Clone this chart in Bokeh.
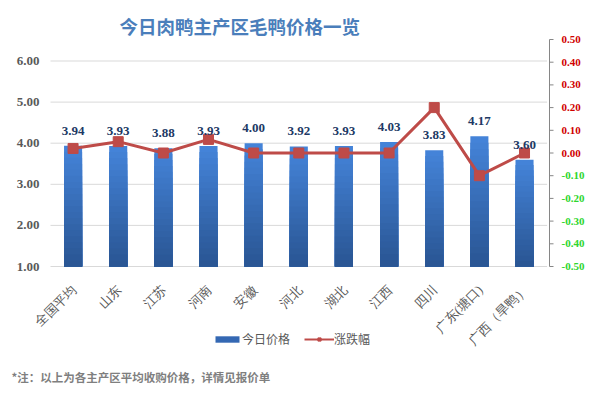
from bokeh.plotting import figure
from bokeh.models import Range1d, Label, Legend, LegendItem, ColumnDataSource
from bokeh.embed import file_html
from bokeh.resources import INLINE
import math

categories = ["全国平均", "山东", "江苏", "河南", "安徽", "河北", "湖北", "江西", "四川", "广东(塘口)", "广西（旱鸭）"]
prices = [3.94, 3.93, 3.88, 3.93, 4.00, 3.92, 3.93, 4.03, 3.83, 4.17, 3.60]
changes = [0.02, 0.05, 0.00, 0.06, 0.00, 0.00, 0.00, 0.00, 0.20, -0.10, 0.00]
left_ticks = [1, 2, 3, 4, 5, 6]
right_ticks = [-0.5, -0.4, -0.3, -0.2, -0.1, 0.0, 0.1, 0.2, 0.3, 0.4, 0.5]
series_names = ["今日价格", "涨跌幅"]
title_text = "今日肉鸭主产区毛鸭价格一览"
note_text = "*注：以上为各主产区平均收购价格，详情见报价单"

CJK = "Noto Sans CJK SC"
NUM = "Open Sans"
W, H = 590, 388

# layout constants (canvas pixels, measured from top-left)
FL, FR = 50.0, 546.6        # chart area left/right
FB = 266.0                  # baseline (1.00 / -0.50)
Y6 = 60.5                   # 6.00 gridline
RT = 39.0                   # +0.50 on right axis
n = len(categories)
ppx = (FR - FL) / n                    # pixels per category
ppu = (FB - Y6) / (6 - 1)              # pixels per price unit
ppc = (FB - RT) / 1.0                  # pixels per change unit

x0 = -0.5 - FL / ppx
x1 = x0 + W / ppx
y0 = 1 - (H - FB) / ppu
y1 = y0 + H / ppu
c0 = -0.5 - (H - FB) / ppc
c1 = c0 + H / ppc

def px_x(px):
    return x0 + px / ppx

p = figure(width=W, height=H, output_backend="svg", toolbar_location=None,
           x_range=Range1d(x0, x1), y_range=Range1d(y0, y1),
           x_axis_type=None, y_axis_type=None, min_border=0)
p.min_border_left = p.min_border_right = p.min_border_top = p.min_border_bottom = 0
p.outline_line_color = None
p.grid.visible = False
p.background_fill_color = "white"
p.border_fill_color = "white"
p.extra_y_ranges = {"chg": Range1d(c0, c1)}

xs = list(range(n))

# gridlines
p.segment(x0=[-0.5] * len(left_ticks), x1=[n - 0.5] * len(left_ticks), y0=left_ticks, y1=left_ticks,
          line_color="#d9d9d9", line_width=1)

# gradient bars (drawn from full height downward so no seams)
N = 20
def lerp(a, b, t):
    return "#%02x%02x%02x" % tuple(int(round(u + (v - u) * t)) for u, v in zip(a, b))
top_c = (0x44, 0x83, 0xd8)
bot_c = (0x2a, 0x56, 0x94)
for k in range(N - 1, -1, -1):
    t = k / (N - 1)
    tops = [1 + (v - 1) * (k + 1) / N for v in prices]
    p.vbar(x=xs, bottom=1, top=tops, width=0.4, fill_color=lerp(bot_c, top_c, t), line_color=None)

# change line
p.line(xs, changes, y_range_name="chg", line_color="#be4b48", line_width=3)
p.scatter(xs, changes, y_range_name="chg", marker="square", size=10,
          fill_color="#be4b48", line_color="#be4b48")

# value labels
src = ColumnDataSource(dict(x=xs, y=prices, t=["%.2f" % v for v in prices]))
p.text(x="x", y="y", text="t", source=src, text_align="center", text_baseline="middle",
       y_offset=-15, text_font_size="13px", text_font_style="bold", text_color="#203864",
       text_font=NUM)

# left tick labels
p.text(x=[px_x(39)] * len(left_ticks), y=left_ticks, text=["%.2f" % t for t in left_ticks],
       text_align="right", text_baseline="middle", text_font_size="13px",
       text_font_style="bold", text_color="#595959", text_font=NUM)

# category labels
p.text(x=xs, y=[1] * n, text=categories, angle=math.pi / 4, text_align="right",
       text_baseline="middle", x_offset=1, y_offset=21, text_font_size="13px", text_color="#595959",
       text_font=CJK)

# right axis
ax = px_x(549)
p.segment(x0=[ax], x1=[ax], y0=[-0.5], y1=[0.5], y_range_name="chg", line_color="#868686", line_width=1)
p.segment(x0=[ax] * len(right_ticks), x1=[px_x(553)] * len(right_ticks), y0=right_ticks, y1=right_ticks,
          y_range_name="chg", line_color="#868686", line_width=1)
pos = [t for t in right_ticks if t >= 0]
neg = [t for t in right_ticks if t < 0]
p.text(x=[px_x(561)] * len(pos), y=pos, text=["%.2f" % t for t in pos], y_range_name="chg",
       text_align="left", text_baseline="middle", text_font_size="11px",
       text_font_style="bold", text_color="#d00000", text_font=NUM)
p.text(x=[px_x(561)] * len(neg), y=neg, text=["%.2f" % t for t in neg], y_range_name="chg",
       text_align="left", text_baseline="middle", text_font_size="11px",
       text_font_style="bold", text_color="#2ed62e", text_font=NUM)

# title and note (screen units: bottom-left origin)
p.add_layout(Label(x=119, y=H - 25, x_units="screen", y_units="screen", text=title_text,
                   text_font=CJK, text_font_size="18.5px", text_font_style="bold",
                   text_color="#4a7ebb", text_baseline="middle"))
p.add_layout(Label(x=11, y=H - 376, x_units="screen", y_units="screen", text=note_text,
                   text_font=CJK, text_font_size="11.5px", text_font_style="bold",
                   text_color="#7f7f7f", text_baseline="alphabetic"))

# legend with dedicated (invisible) glyphs
lb = p.vbar(x=[0], bottom=[1], top=[1], width=0.4, fill_color="#3468b3", line_color=None)
ll = p.line(x=[0], y=[float("nan")], line_color="#be4b48", line_width=2)
lm = p.scatter(x=[0], y=[float("nan")], marker="square", size=7, fill_color="#be4b48",
               line_color="#be4b48")
legend = Legend(items=[LegendItem(label=series_names[0], renderers=[lb]),
                       LegendItem(label=series_names[1], renderers=[ll, lm])],
                orientation="horizontal", location=(212, H - 347),
                label_text_font=CJK, label_text_font_size="12px", label_text_color="#595959",
                background_fill_alpha=0, border_line_color=None, glyph_width=30, glyph_height=8,
                label_height=12, label_standoff=0, spacing=14, padding=0, margin=0)
p.add_layout(legend, "center")

open("out.html", "w").write(file_html(p, INLINE))
